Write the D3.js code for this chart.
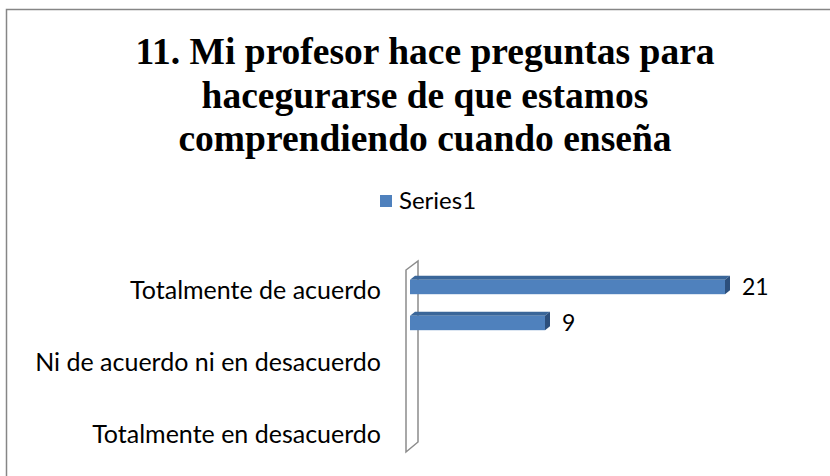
<!DOCTYPE html>
<html>
<head>
<meta charset="utf-8">
<script src="https://cdn.jsdelivr.net/npm/d3@7"></script>
<style>
  html, body { margin: 0; padding: 0; background: #fff; }
  svg { display: block; }
</style>
</head>
<body>
<div id="chart"></div>
<script>
// chart data (bottom-to-top order, as in the source sheet)
const categories = [
  "Totalmente en desacuerdo",
  "En desacuerdo",
  "Ni de acuerdo ni en desacuerdo",
  "De acuerdo",
  "Totalmente de acuerdo"
]
const values = [0, 0, 0, 9, 21]
const seriesName = "Series1"
const titleLines = [
  "11. Mi profesor hace preguntas para",
  "hacegurarse de que estamos",
  "comprendiendo cuando enseña"
]

const width = 830
const height = 476

const barColor = "#4f81bd"
const barTop = "#3a6699"
const barSide = "#2c4f7c"
const sans = "Lato, 'Open Sans', sans-serif"

const data = categories.map((c, i) => ({ name: c, value: values[i] }))

const svg = d3.select("#chart")
  .append("svg")
  .attr("width", width)
  .attr("height", height)

// outer chart frame (runs off the right/bottom edge)
svg.append("rect")
  .attr("x", 6.5)
  .attr("y", 9.5)
  .attr("width", 900)
  .attr("height", 600)
  .attr("fill", "none")
  .attr("stroke", "#868686")
  .attr("stroke-width", 1.5)

// title
svg.append("g")
  .selectAll("text")
  .data(titleLines)
  .join("text")
  .attr("x", 425)
  .attr("y", (d, i) => 64 + i * 43.5)
  .attr("text-anchor", "middle")
  .attr("font-family", "'Liberation Serif', 'Times New Roman', serif")
  .attr("font-weight", "bold")
  .attr("font-size", 37.5)
  .attr("fill", "#000")
  .text(d => d)

// legend
const legend = svg.append("g").attr("transform", "translate(380,195)")
legend.append("rect")
  .attr("width", 12)
  .attr("height", 12)
  .attr("fill", barColor)
legend.append("text")
  .attr("x", 19)
  .attr("y", 6)
  .attr("dy", "0.35em")
  .attr("font-family", sans)
  .attr("font-size", 24)
  .attr("fill", "#000")
  .text(seriesName)

// scales
const y = d3.scaleBand()
  .domain(categories.slice().reverse())
  .range([269, 449])
  .paddingInner(0.6)
  .paddingOuter(0.3)

const x = d3.scaleLinear()
  .domain([0, 25])
  .range([410, 785])

// 3d wall on the left
const wallDx = 12, wallDy = -9
const wallTop = y.range()[0] + 1
const wallBot = y.range()[1] + 3
svg.append("polygon")
  .attr("points", [
    [406, wallTop], [406 + wallDx, wallTop + wallDy],
    [406 + wallDx, wallBot + wallDy - 1], [406, wallBot]
  ].map(p => p.join(",")).join(" "))
  .attr("fill", "#fff")
  .attr("stroke", "#8c8c8c")
  .attr("stroke-width", 1.5)

// category axis, every other label shown
const axis = d3.axisLeft(y)
  .tickSize(0)
  .tickPadding(0)
  .tickFormat((d, i) => i % 2 === 0 ? d : "")

const ag = svg.append("g")
  .attr("transform", "translate(381,4)")
  .call(axis)
ag.select(".domain").remove()
ag.attr("font-family", null).attr("font-size", null)
ag.selectAll("text")
  .attr("font-family", sans)
  .attr("font-size", 25)
  .attr("fill", "#000")

// 3d bars
const dx = 5, dy = -4
const bars = svg.append("g")
  .selectAll("g")
  .data(data.filter(d => d.value > 0))
  .join("g")

// top face
bars.append("polygon")
  .attr("points", d => {
    const x0 = x(0), x1 = x(d.value), y0 = y(d.name)
    return [[x0, y0], [x0 + dx, y0 + dy], [x1 + dx, y0 + dy], [x1, y0]]
      .map(p => p.join(",")).join(" ")
  })
  .attr("fill", barTop)

// side face
bars.append("polygon")
  .attr("points", d => {
    const x1 = x(d.value), y0 = y(d.name), y1 = y0 + y.bandwidth()
    return [[x1, y0], [x1 + dx, y0 + dy], [x1 + dx, y1 + dy], [x1, y1]]
      .map(p => p.join(",")).join(" ")
  })
  .attr("fill", barSide)

// front face
bars.append("rect")
  .attr("x", x(0))
  .attr("y", d => y(d.name))
  .attr("width", d => x(d.value) - x(0))
  .attr("height", y.bandwidth())
  .attr("fill", barColor)

// value labels
bars.append("text")
  .attr("x", d => x(d.value) + 17)
  .attr("y", d => y(d.name) + y.bandwidth() / 2)
  .attr("dy", "0.35em")
  .attr("font-family", sans)
  .attr("font-size", 23)
  .attr("fill", "#000")
  .text(d => d.value)
</script>
</body>
</html>
